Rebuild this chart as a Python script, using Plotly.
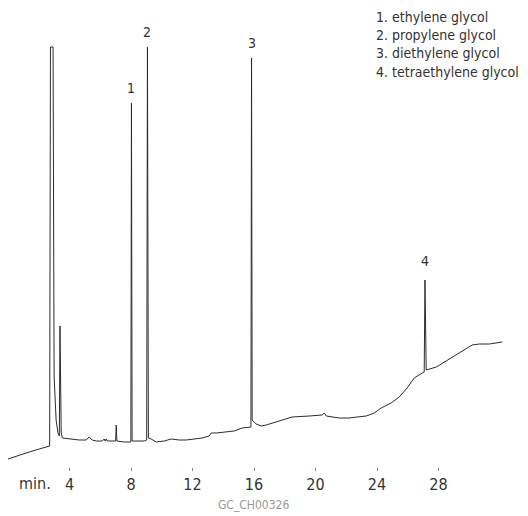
import plotly.graph_objects as go

# Retention time (min) and detector response (arbitrary units)
time_min = [
    0.00, 0.73, 1.38, 2.03, 2.42, 2.68, 2.71, 2.76, 2.93, 3.00, 3.13, 3.25, 3.34, 3.38, 3.41,
    3.46, 3.53, 3.98, 4.63, 5.09, 5.28, 5.48, 5.74, 6.13, 6.26, 6.32, 6.39, 6.45, 6.91, 7.00,
    7.04, 7.08, 7.56, 7.88, 7.99, 8.03, 8.07, 8.21, 8.53, 8.86, 9.02, 9.07, 9.13, 9.31, 9.64,
    10.16, 10.61, 11.14, 11.59, 12.11, 12.63, 13.09, 13.22, 13.54, 14.06, 14.71, 15.23, 15.75,
    15.80, 15.84, 15.88, 16.14, 16.47, 16.79, 17.64, 18.48, 19.59, 20.44, 20.57, 20.70, 21.54,
    22.19, 22.71, 23.30, 23.82, 24.27, 24.92, 25.44, 25.96, 26.42, 26.94, 27.07, 27.12, 27.20,
    27.86, 28.37, 28.89, 29.35, 30.19, 30.65, 31.30, 32.14,
]
response = [
    8, 12, 15, 18, 20, 21, 21, 420, 420, 90, 47, 34, 31, 141, 47,
    35, 29, 28, 27, 27, 30, 27, 26, 26, 28, 26, 28, 26, 26, 26,
    42, 26, 25, 25, 25, 364, 26, 26, 26, 26, 27, 420, 29, 28, 25,
    26, 28, 27, 27, 28, 29, 31, 34, 34, 35, 36, 39, 40,
    40, 409, 47, 43, 41, 42, 46, 50, 51, 52, 54, 51, 49,
    49, 50, 51, 54, 59, 64, 70, 79, 89, 94, 95, 187, 97,
    100, 105, 110, 114, 122, 123, 123, 125,
]

tick_vals = [4, 8, 12, 16, 20, 24, 28]
peak_ids = ["1", "2", "3", "4"]
peak_times = [8.03, 9.07, 15.84, 27.12]
peak_heights = [364, 420, 409, 187]
compounds = ["ethylene glycol", "propylene glycol", "diethylene glycol", "tetraethylene glycol"]

FONT = "DejaVu Sans Condensed, Liberation Sans Narrow, sans-serif"

fig = go.Figure()
fig.add_trace(go.Scatter(
    x=time_min, y=response, mode="lines",
    line=dict(color="#2b2b2b", width=1),
    hoverinfo="skip", showlegend=False,
))

annotations = []
for pid, pt, ph in zip(peak_ids, peak_times, peak_heights):
    annotations.append(dict(
        x=pt, y=ph, xref="x", yref="y", text=pid, showarrow=False,
        yanchor="bottom", yshift=9 if pid == "4" else 5,
        font=dict(family=FONT, size=14, color="#333333"),
    ))

annotations.append(dict(
    x=0.7176, y=1.09, xref="paper", yref="paper", xanchor="left", yanchor="top",
    align="left", showarrow=False,
    text="<br>".join(f"{pid}. {name}" for pid, name in zip(peak_ids, compounds)),
    font=dict(family=FONT, size=14, color="#333333"),
))
annotations.append(dict(
    x=1.77, y=-0.038, xref="x", yref="paper", text="min.", showarrow=False,
    yanchor="middle", font=dict(family=FONT, size=16, color="#333333"),
))
annotations.append(dict(
    x=0.482, y=-0.09, xref="paper", yref="paper", text="GC_CH00326", showarrow=False,
    yanchor="middle", font=dict(family=FONT, size=12, color="#9a9a9a"),
))

fig.update_layout(
    width=528, height=516,
    margin=dict(l=8, r=10, t=45, b=49),
    paper_bgcolor="white", plot_bgcolor="white",
    annotations=annotations,
    xaxis=dict(
        range=[0, 33.17], tickvals=tick_vals, ticks="outside", ticklen=3,
        tickcolor="#888888", tickwidth=1, showgrid=False, zeroline=False, showline=False,
        tickfont=dict(family=FONT, size=16, color="#333333"),
    ),
    yaxis=dict(range=[0, 422], visible=False, showgrid=False, zeroline=False),
)

fig.write_html("out.html", config={"displayModeBar": False},
               post_script="document.body.style.margin='0px';")
